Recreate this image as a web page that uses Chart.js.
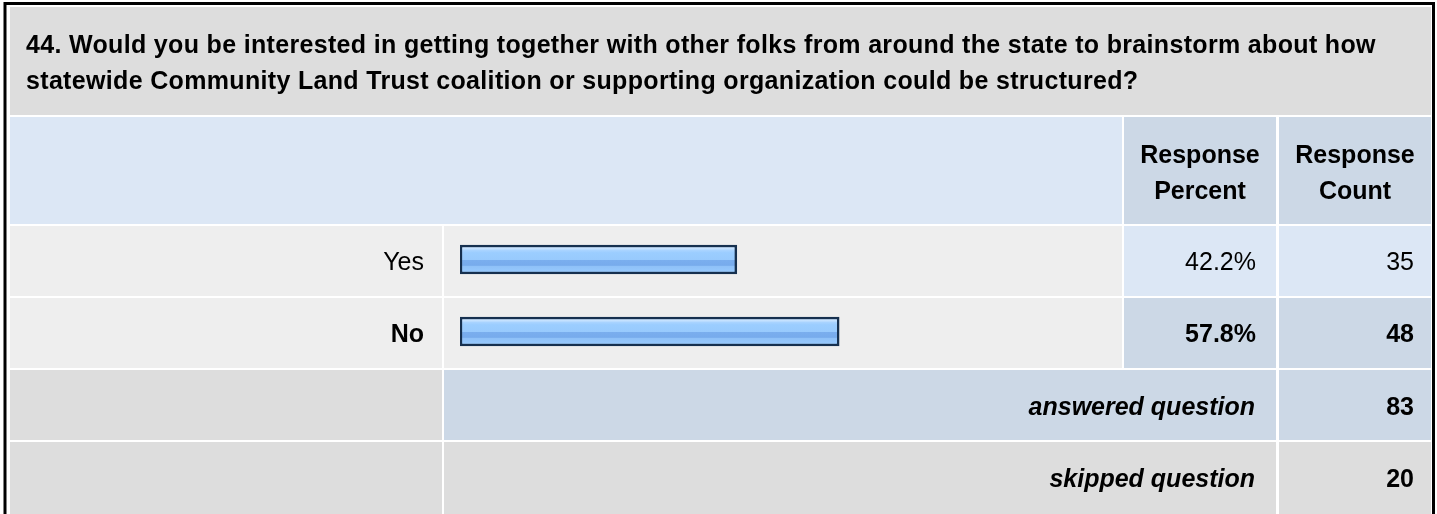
<!DOCTYPE html>
<html>
<head>
<meta charset="utf-8">
<script src="https://cdn.jsdelivr.net/npm/chart.js@4"></script>
<style>
  html, body { margin: 0; padding: 0; background: #fff; }
  #wrap { width: 1437px; height: 514px; position: relative; }
</style>
</head>
<body>
<div id="wrap"><canvas id="chart"></canvas></div>
<script>
const titleLines = [
    '44. Would you be interested in getting together with other folks from around the state to brainstorm about how',
    'statewide Community Land Trust coalition or supporting organization could be structured?'
];
const headerLabels = [['Response', 'Percent'], ['Response', 'Count']];
const categories = ['Yes', 'No'];
const responsePercent = [42.2, 57.8];
const responseCount = [35, 48];
const answeredQuestion = 83;
const skippedQuestion = 20;

const FONT = '"Liberation Sans", Arial, sans-serif';
const cols = [[10, 442], [444, 1122], [1124, 1276], [1279, 1431]];
const maxCount = Math.max(...responseCount);

// fill for the bars, like the old glossy survey bars
const barFill = ctx => {
    const chart = ctx.chart;
    const y = chart.scales.y;
    if (!y || ctx.dataIndex === undefined) return '#99ccff';
    const c = y.getPixelForValue(ctx.dataIndex);
    if (!Number.isFinite(c)) return '#99ccff';
    const g = chart.ctx.createLinearGradient(0, c - 14.5, 0, c + 14.5);
    g.addColorStop(0, '#c8e3ff');
    g.addColorStop(0.13, '#c4e1ff');
    g.addColorStop(0.19, '#a8d3ff');
    g.addColorStop(0.27, '#9bcdff');
    g.addColorStop(0.5, '#98cafd');
    g.addColorStop(0.53, '#7aaeee');
    g.addColorStop(0.7, '#77abec');
    g.addColorStop(0.74, '#8fc1f8');
    g.addColorStop(1, '#99ccff');
    return g;
};

const tablePlugin = {
    id: 'surveyTable',
    beforeDraw(chart) {
        const ctx = chart.ctx;
        const y = chart.scales.y;
        const cell = (x0, x1, y0, y1, color) => {
            ctx.fillStyle = color;
            ctx.fillRect(x0, y0, x1 - x0, y1 - y0);
        };
        ctx.save();
        ctx.fillStyle = '#fff';
        ctx.fillRect(0, 0, chart.width, chart.height);

        ctx.strokeStyle = '#000';
        ctx.lineWidth = 3;
        ctx.strokeRect(5, 3.5, 1428.5, 600);

        // title + header rows
        cell(cols[0][0], cols[3][1], 7, 115, '#dddddd');
        cell(cols[0][0], cols[1][1], 117, 224, '#dce7f5');
        cell(cols[2][0], cols[2][1], 117, 224, '#ccd8e6');
        cell(cols[3][0], cols[3][1], 117, 224, '#ccd8e6');

        // answer rows, placed from the category scale
        categories.forEach((c, i) => {
            const mid = y.getPixelForValue(i);
            const y0 = mid - 33.5, y1 = mid + 36.5;
            const blue = i % 2 === 0 ? '#dce7f5' : '#ccd8e6';
            cell(cols[0][0], cols[0][1], y0, y1, '#eeeeee');
            cell(cols[1][0], cols[1][1], y0, y1, '#eeeeee');
            cell(cols[2][0], cols[2][1], y0, y1, blue);
            cell(cols[3][0], cols[3][1], y0, y1, blue);
        });

        // summary rows
        cell(cols[0][0], cols[0][1], 370, 440, '#dddddd');
        cell(cols[1][0], cols[2][1], 370, 440, '#ccd8e6');
        cell(cols[3][0], cols[3][1], 370, 440, '#ccd8e6');
        cell(cols[0][0], cols[0][1], 442, 520, '#dddddd');
        cell(cols[1][0], cols[2][1], 442, 520, '#dddddd');
        cell(cols[3][0], cols[3][1], 442, 520, '#dddddd');
        ctx.restore();
    },
    afterDraw(chart) {
        const ctx = chart.ctx;
        const y = chart.scales.y;
        ctx.save();
        ctx.fillStyle = '#000';
        ctx.textBaseline = 'alphabetic';

        ctx.font = 'bold 25px ' + FONT;
        ctx.textAlign = 'left';
        ctx.letterSpacing = '0.33px';
        titleLines.forEach((t, i) => ctx.fillText(t, 26, 53 + i * 36));
        ctx.letterSpacing = '0px';

        ctx.textAlign = 'center';
        headerLabels.forEach((lines, k) => {
            const cx = (cols[k + 2][0] + cols[k + 2][1]) / 2;
            lines.forEach((t, i) => ctx.fillText(t, cx, 163 + i * 36));
        });

        ctx.textAlign = 'right';
        categories.forEach((c, i) => {
            const mid = y.getPixelForValue(i) + 10;
            ctx.font = (responseCount[i] === maxCount ? 'bold ' : '') + '25px ' + FONT;
            ctx.fillText(c, 424, mid);
            ctx.fillText(responsePercent[i].toFixed(1) + '%', 1256, mid);
            ctx.fillText(String(responseCount[i]), 1414, mid);
        });

        ctx.font = 'italic bold 25px ' + FONT;
        ctx.fillText('answered question', 1255, 415);
        ctx.fillText('skipped question', 1255, 487);
        ctx.font = 'bold 25px ' + FONT;
        ctx.fillText(String(answeredQuestion), 1414, 415);
        ctx.fillText(String(skippedQuestion), 1414, 487);
        ctx.restore();
    }
};

new Chart(document.getElementById('chart'), {
    type: 'bar',
    data: {
        labels: categories,
        datasets: [{
            data: responsePercent,
            backgroundColor: barFill,
            borderColor: '#16304f',
            borderWidth: 2.5,
            borderSkipped: false,
            barThickness: 29
        }]
    },
    options: {
        indexAxis: 'y',
        responsive: true,
        maintainAspectRatio: false,
        animation: false,
        events: [],
        layout: { padding: { left: 460, right: 321, top: 223.5, bottom: 146.5 } },
        plugins: { legend: { display: false }, tooltip: { enabled: false } },
        scales: {
            x: { display: false, min: 0, max: 100 },
            y: { display: false }
        }
    },
    plugins: [tablePlugin]
});
</script>
</body>
</html>
